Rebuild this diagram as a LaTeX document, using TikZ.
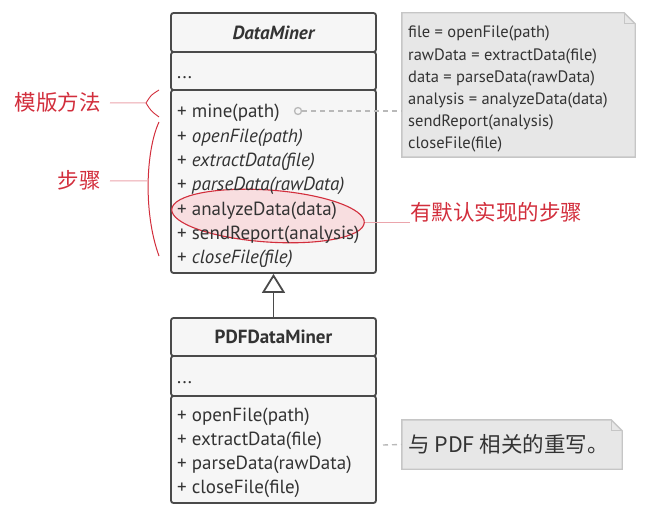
\documentclass[tikz,border=0pt]{standalone}
\usepackage{fontspec}
\setmainfont{PT Sans}
\newfontfamily\cjk{Noto Sans CJK SC}
\usetikzlibrary{positioning, calc, shapes.geometric, arrows.meta}

\definecolor{umlline}{HTML}{4A4A4A}
\definecolor{umlfill}{HTML}{F6F6F6}
\definecolor{notefill}{HTML}{E7E7E7}
\definecolor{noteedge}{HTML}{C6C6C6}
\definecolor{annot}{HTML}{D22E3C}
\definecolor{annotlight}{HTML}{EBA5AC}
\definecolor{textgray}{HTML}{333333}

\tikzset{
  umlpart/.style={draw=umlline, fill=umlfill, line width=1.8pt, rounded corners=2.5pt,
    minimum width=205pt, inner sep=0pt, text=textgray},
  member/.style={anchor=base west, inner sep=0pt, text=textgray, font=\fontsize{19}{21}\selectfont},
  notetext/.style={anchor=base west, inner sep=0pt, text=textgray, font=\fontsize{16.5}{18}\selectfont},
  notebox/.style={fill=notefill, draw=noteedge, line width=1.4pt},
  noteline/.style={draw=gray!55, line width=1.4pt, dash pattern=on 5pt off 4pt},
  annottext/.style={inner sep=0pt, text=annot, font=\cjk\fontsize{21.5}{23}\selectfont},
  annotline/.style={draw=annotlight, line width=1pt},
}

\begin{document}
\begin{tikzpicture}[x=1pt, y=-1pt]
      \useasboundingbox (0,0) rectangle (646,516);

      % DataMiner class
      \node [umlpart, minimum height=39pt, font=\bfseries\itshape\fontsize{19}{21}\selectfont] (dm-title) at (273.5,32.5) {DataMiner};
      \node [umlpart, minimum height=38pt] (dm-fields) at (273.5,71) {};
      \node [umlpart, minimum height=183pt] (dm-methods) at (273.5,181.5) {};
      \node [member] (dm-dots) at (177,79) {...};

      % steps with a default implementation
      \node [ellipse, draw=annot, fill=annot!16, line width=1.1pt, minimum width=193pt,
        minimum height=52pt, rotate=-4] (default-steps) at (268,216) {};

      \foreach \m/\s [count=\i] in {mine(path)/\upshape, openFile(path)/\itshape,
          extractData(file)/\itshape, parseData(rawData)/\itshape, analyzeData(data)/\upshape,
          sendReport(analysis)/\upshape, closeFile(file)/\itshape}
        \node [member] (dm-m\i) at (177,{118+24.3*(\i-1)}) {+ {\s\m}};

      % PDFDataMiner class
      \node [umlpart, minimum height=38pt, font=\bfseries\fontsize{19}{21}\selectfont] (pdf-title) at (273.5,337) {PDFDataMiner};
      \node [umlpart, minimum height=40pt] (pdf-fields) at (273.5,376) {};
      \node [umlpart, minimum height=107pt] (pdf-methods) at (273.5,449.5) {};
      \node [member] (pdf-dots) at (177,383) {...};
      \foreach \m [count=\i] in {openFile(path), extractData(file), parseData(rawData), closeFile(file)}
        \node [member] (pdf-m\i) at (177,{421+24.3*(\i-1)}) {+ \m};

      % Inheritance
      \draw [umlline, line width=1.8pt, -{Triangle[open, length=19pt, width=23pt, line width=1.8pt]}]
        (pdf-title.north) -- (dm-methods.south);

      % Note with the template method body
      \node [minimum width=233pt, minimum height=144pt, inner sep=0pt] (note1) at (518.5,85) {};
      \draw [notebox] (note1.north west) -- ($(note1.north east)+(-11,0)$)
        -- ($(note1.north east)+(0,11)$) -- (note1.south east) -- (note1.south west) -- cycle;
      \draw [noteedge, line width=1pt] ($(note1.north east)+(-11,0)$) -- ($(note1.north east)+(-11,11)$)
        -- ($(note1.north east)+(0,11)$);
      \foreach \t [count=\i] in {file = openFile(path), rawData = extractData(file),
          data = parseData(rawData), analysis = analyzeData(data), sendReport(analysis), closeFile(file)}
        \node [notetext] (note1-l\i) at (408,{38+22.2*(\i-1)}) {\t};

      \node [circle, draw=gray!55, line width=1.3pt, minimum size=7pt, inner sep=0pt] (mine-dot) at (298,111) {};
      \draw [noteline] (mine-dot) -- (note1.west |- mine-dot);

      % Note for the subclass
      \node [minimum width=220pt, minimum height=49pt, inner sep=0pt] (note2) at (512,444.5) {};
      \draw [notebox] (note2.north west) -- ($(note2.north east)+(-11,0)$)
        -- ($(note2.north east)+(0,11)$) -- (note2.south east) -- (note2.south west) -- cycle;
      \draw [noteedge, line width=1pt] ($(note2.north east)+(-11,0)$) -- ($(note2.north east)+(-11,11)$)
        -- ($(note2.north east)+(0,11)$);
      \node [notetext, font=\cjk\fontsize{21.5}{23}\selectfont] (note2-text) at (408,452) {与 PDF 相关的重写。};
      \coordinate (pdf-hook) at (383,445);
      \draw [noteline] (pdf-hook) -- (note2.west);

      % Annotations
      \node [annottext, anchor=base east] (tmpl-label) at (101,111) {模版方法};
      \node [annottext, anchor=base east] (steps-label) at (101,189) {步骤};
      \node [annottext, anchor=base west] (default-label) at (410,221) {有默认实现的步骤};

      \coordinate (tmpl-tip) at (146,103);
      \coordinate (steps-tip) at (147,181);
      \draw [annot, line width=0.9pt] (159,90) .. controls (151,95) .. (tmpl-tip) .. controls (151,111) .. (159,117);
      \draw [annot, line width=1pt] (159,122) .. controls (146,150) and (143,212) .. (159,256);
      \draw [annotline] ($(tmpl-label.east)+(9,0)$) -- (tmpl-tip);
      \draw [annotline] ($(steps-label.east)+(9,0)$) -- (steps-tip);
      \draw [annotline] (default-steps.east) -- (default-label.west |- default-steps.east);
\end{tikzpicture}
\end{document}
